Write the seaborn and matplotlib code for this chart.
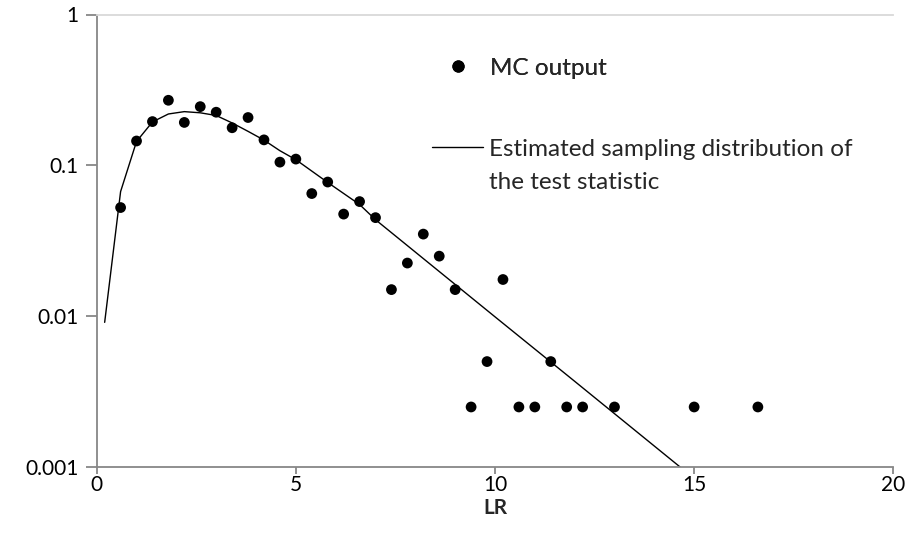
import matplotlib
matplotlib.use("Agg")
import matplotlib.pyplot as plt
from matplotlib.lines import Line2D
from matplotlib.ticker import FixedLocator, FixedFormatter, NullLocator
import seaborn as sns
import pandas as pd

# Monte Carlo output (bin centres and densities)
mc_lr = [0.6, 1.0, 1.4, 1.8, 2.2, 2.6, 3.0, 3.4, 3.8, 4.2, 4.6, 5.0, 5.4, 5.8,
         6.2, 6.6, 7.0, 7.4, 7.8, 8.2, 8.6, 9.0, 9.4, 9.8, 10.2, 10.6, 11.0,
         11.4, 11.8, 12.2, 13.0, 15.0, 16.6]
mc_density = [0.0525, 0.145, 0.195, 0.27, 0.1925, 0.245, 0.225, 0.1775, 0.2075,
              0.1475, 0.105, 0.11, 0.065, 0.0775, 0.0475, 0.0575, 0.045, 0.015,
              0.0225, 0.035, 0.025, 0.015, 0.0025, 0.005, 0.0175, 0.0025, 0.0025,
              0.005, 0.0025, 0.0025, 0.0025, 0.0025, 0.0025]

# Estimated sampling distribution
est_lr = [0.2, 0.6, 1.0, 1.4, 1.8, 2.2, 2.6, 3.0, 3.4, 3.8, 4.2, 4.6, 5.0, 5.8,
          6.6, 7.0, 8.0, 10.0, 12.0, 15.0]
est_density = [0.0091, 0.067, 0.144, 0.194, 0.219, 0.227, 0.223, 0.214, 0.191,
               0.168, 0.147, 0.125, 0.109, 0.077, 0.055, 0.0436, 0.0266, 0.0099,
               0.0037, 0.00084]

x_ticks = [0, 5, 10, 15, 20]
y_ticks = [0.001, 0.01, 0.1, 1]
y_tick_labels = ["0.001", "0.01", "0.1", "1"]
x_label = "LR"
mc_label = "MC output"
est_label_1 = "Estimated sampling distribution of"
est_label_2 = "the test statistic"

sns.set_theme(style="white")
plt.rcParams["font.family"] = ["Lato", "DejaVu Sans"]

W, H = 909, 556
fig = plt.figure(figsize=(W / 100, H / 100), dpi=100)
left, right, top, bottom = 96.7, 893.3, 14.5, 467.0
ax = fig.add_axes([left / W, 1 - bottom / H, (right - left) / W, (bottom - top) / H])

mc_df = pd.DataFrame({"LR": mc_lr, "density": mc_density})
est_df = pd.DataFrame({"LR": est_lr, "density": est_density})

sns.lineplot(data=est_df, x="LR", y="density", ax=ax, color="black",
             linewidth=1.0, sort=False, estimator=None)
sns.scatterplot(data=mc_df, x="LR", y="density", ax=ax, color="black",
                s=60, edgecolor="none", zorder=3)

ax.set_yscale("log")
ax.set_xlim(0, 20)
ax.set_ylim(0.001, 1)
ax.xaxis.set_major_locator(FixedLocator(x_ticks))
ax.yaxis.set_major_locator(FixedLocator(y_ticks))
ax.yaxis.set_major_formatter(FixedFormatter(y_tick_labels))
ax.yaxis.set_minor_locator(NullLocator())
ax.set_xticklabels([str(t) for t in x_ticks])

spine_col = "#878787"
for s in ["left", "bottom"]:
    ax.spines[s].set_color(spine_col)
    ax.spines[s].set_linewidth(1.3)
ax.spines["right"].set_visible(False)
ax.spines["top"].set_color("#d9d9d9")
ax.spines["top"].set_linewidth(1.3)

tick_fs = 15
ax.tick_params(axis="both", which="major", direction="out", color=spine_col,
               width=1.3, labelsize=tick_fs, labelcolor="black",
               bottom=True, left=True)
ax.tick_params(axis="y", length=8, pad=5)
ax.tick_params(axis="x", length=5, pad=1)
ax.set_xlabel(x_label, fontsize=15, fontweight="bold", labelpad=2)
ax.set_ylabel("")

fs = 17.5
fs_px = fs * 100 / 72
handle_len = 51 / fs_px
leg1 = fig.legend(handles=[Line2D([], [], linestyle="none", marker="o",
                                  markersize=7.8, color="black")],
                  labels=[mc_label], loc="center left",
                  bbox_to_anchor=(432.5 / W, 1 - 68 / H), frameon=False,
                  fontsize=fs, handlelength=handle_len,
                  handletextpad=6 / fs_px, borderpad=0, borderaxespad=0)
leg2 = fig.legend(handles=[Line2D([], [], color="black", linewidth=1.0),
                           Line2D([], [], color="none")],
                  labels=[est_label_1, est_label_2], loc="center left",
                  bbox_to_anchor=(432 / W, 1 - 166 / H), frameon=False,
                  fontsize=fs, handlelength=handle_len,
                  handletextpad=6 / fs_px, borderpad=0, borderaxespad=0,
                  labelspacing=0.52)
fig.add_artist(leg1)

fig.savefig("out.png", dpi=100)
